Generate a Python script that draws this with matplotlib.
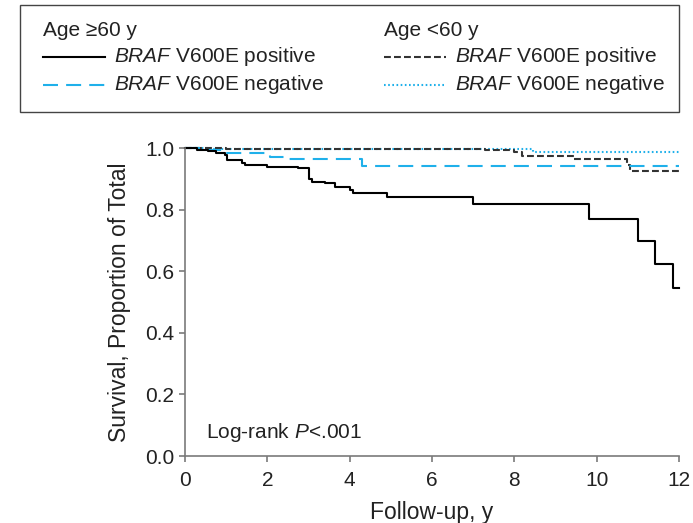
import matplotlib
matplotlib.use("Agg")
import matplotlib.pyplot as plt
from matplotlib.lines import Line2D
from matplotlib.patches import Rectangle

plt.rcParams['font.family'] = ['Liberation Sans', 'DejaVu Sans']
plt.rcParams['mathtext.fontset'] = 'custom'
plt.rcParams['mathtext.rm'] = 'Liberation Sans'
plt.rcParams['mathtext.it'] = 'Liberation Sans:italic'

# Kaplan-Meier step data
old_pos_t = [0, 0.3, 0.55, 0.75, 0.97, 1.01, 1.38, 1.45, 1.98, 2.75, 3.0, 3.08,
             3.4, 3.64, 4.0, 4.09, 4.9, 6.99, 9.82, 11.0, 11.42, 11.85, 12.0]
old_pos_s = [1.0, 0.995, 0.99, 0.983, 0.977, 0.961, 0.95, 0.945, 0.939, 0.934, 0.90, 0.89,
             0.885, 0.875, 0.864, 0.853, 0.842, 0.817, 0.768, 0.698, 0.622, 0.544, 0.544]

old_neg_t = [0, 0.5, 0.93, 2.06, 2.47, 4.29, 12.0]
old_neg_s = [1.0, 0.995, 0.983, 0.972, 0.963, 0.943, 0.943]

young_pos_t = [0, 1.0, 7.29, 8.0, 8.18, 9.45, 10.73, 10.81, 12.0]
young_pos_s = [1.0, 0.998, 0.994, 0.986, 0.975, 0.964, 0.945, 0.925, 0.925]

young_neg_t = [0, 0.6, 8.46, 12.0]
young_neg_s = [1.0, 0.997, 0.987, 0.987]

x_ticks = [0, 2, 4, 6, 8, 10, 12]
y_ticks = [0.0, 0.2, 0.4, 0.6, 0.8, 1.0]

blue = '#1fb0ea'
txt = '#222222'
grey = '#7a7a7a'

W, H = 693, 523
fig = plt.figure(figsize=(W / 100, H / 100), dpi=100)
ax = fig.add_axes([185 / W, 1 - 456 / H, (679 - 185) / W, (456 - 148) / H])

styles = [
    (old_pos_t, old_pos_s, dict(color='black', lw=1.5, ls='-')),
    (old_neg_t, old_neg_s, dict(color=blue, lw=1.5, dashes=(7.2, 3.9))),
    (young_pos_t, young_pos_s, dict(color='#333333', lw=1.5, dashes=(3.3, 1.5))),
    (young_neg_t, young_neg_s, dict(color=blue, lw=1.5, dashes=(0.8, 1.2))),
]
# draw dotted/dashed on top of the solid
for t, s, st in styles[::-1]:
    ax.step(t, s, where='post', clip_on=False, **st)

ax.set_xlim(0, 12)
ax.set_ylim(0, 1.0)
ax.set_xticks(x_ticks)
ax.set_yticks(y_ticks)
ax.set_yticklabels([f"{v:.1f}" for v in y_ticks])
for side in ['top', 'right']:
    ax.spines[side].set_visible(False)
for side in ['left', 'bottom']:
    ax.spines[side].set_color(grey)
    ax.spines[side].set_linewidth(1.2)
ax.tick_params(axis='both', direction='out', length=4.5, width=1.2, color=grey,
               labelsize=15, labelcolor=txt)
ax.tick_params(axis='x', pad=6)
ax.tick_params(axis='y', pad=3)

ax.set_xlabel("Follow-up, y", fontsize=16.5, color=txt, labelpad=8)
ax.set_ylabel("Survival, Proportion of Total", fontsize=16.5, color=txt, labelpad=10)

ax.text(0.5, 0.075, r"Log-rank $\mathit{P}$<.001", fontsize=15, color=txt,
        va='center', ha='left')

# legend box drawn by hand, in figure pixels
def fx(px):
    return px / W

def fy(py):
    return 1 - py / H

fig.add_artist(Rectangle((fx(20), fy(112)), fx(679) - fx(20), fy(5) - fy(112),
                         transform=fig.transFigure, fill=False, ec='#444444', lw=1.0))

leg_rows = [
    (43, 30, None, "Age \u226560 y"),
    (43, 57, dict(color='black', lw=1.5, ls='-'), r"$\mathit{BRAF}$ V600E positive"),
    (43, 85, dict(color=blue, lw=1.5, dashes=(7.2, 3.9)), r"$\mathit{BRAF}$ V600E negative"),
    (384, 30, None, "Age <60 y"),
    (384, 57, dict(color='#333333', lw=1.5, dashes=(3.3, 1.5)), r"$\mathit{BRAF}$ V600E positive"),
    (384, 85, dict(color=blue, lw=1.5, dashes=(0.8, 1.2)), r"$\mathit{BRAF}$ V600E negative"),
]
for x0, y0, st, label in leg_rows:
    if st is None:
        fig.text(fx(x0), fy(y0), label, fontsize=15, color=txt, va='center', ha='left')
    else:
        fig.add_artist(Line2D([fx(x0), fx(x0 + 62)], [fy(y0), fy(y0)],
                              transform=fig.transFigure, **st))
        fig.text(fx(x0 + 71), fy(y0), label, fontsize=15, color=txt, va='center', ha='left')

fig.savefig("out.png", dpi=100)
